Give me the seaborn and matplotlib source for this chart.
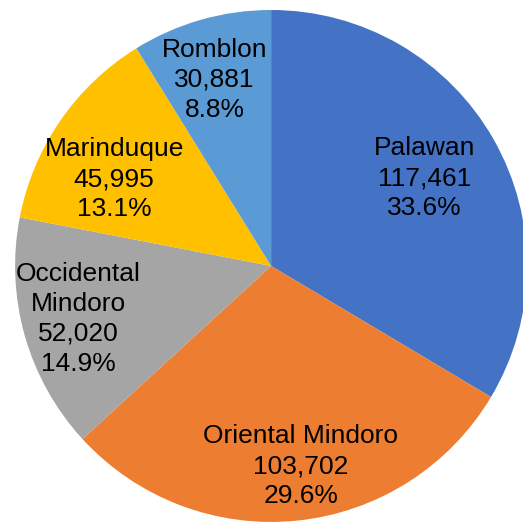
import matplotlib
matplotlib.use('Agg')
import matplotlib.pyplot as plt
import numpy as np
import seaborn as sns

sns.set_theme(style='white')
plt.rcParams['font.family'] = ['Liberation Sans', 'DejaVu Sans']

# Data
provinces = ['Palawan', 'Oriental Mindoro', 'Occidental\nMindoro', 'Marinduque', 'Romblon']
population = [117461, 103702, 52020, 45995, 30881]
percents = [33.6, 29.6, 14.9, 13.1, 8.8]
colors = ['#4472C4', '#ED7D31', '#A5A5A5', '#FFC000', '#5B9BD5']

# label placement (fraction of radius, angle nudge in degrees)
label_dist = [0.69, 0.79, 0.78, 0.70, 0.76]
label_nudge = [0.2, 2.5, -0.5, 5.7, 1]

fig = plt.figure(figsize=(5.23, 5.25), dpi=100)
ax = fig.add_axes([0, 0, 1, 1])

wedges, _ = ax.pie(population, colors=colors, startangle=90, counterclock=False,
                   radius=1, wedgeprops={'linewidth': 0})

for w, name, val, pct, d, nd in zip(wedges, provinces, population, percents,
                                    label_dist, label_nudge):
    ang = np.deg2rad((w.theta1 + w.theta2) / 2 + nd)
    ax.text(d * np.cos(ang), d * np.sin(ang), f'{name}\n{val:,}\n{pct}%',
            ha='center', va='center', fontsize=19, color='black', linespacing=1.32)

ax.set_aspect('auto')
ax.set_xlim(-1.059, 0.984)
ax.set_ylim(-1.012, 1.039)
ax.axis('off')

fig.savefig('out.png', dpi=100)
